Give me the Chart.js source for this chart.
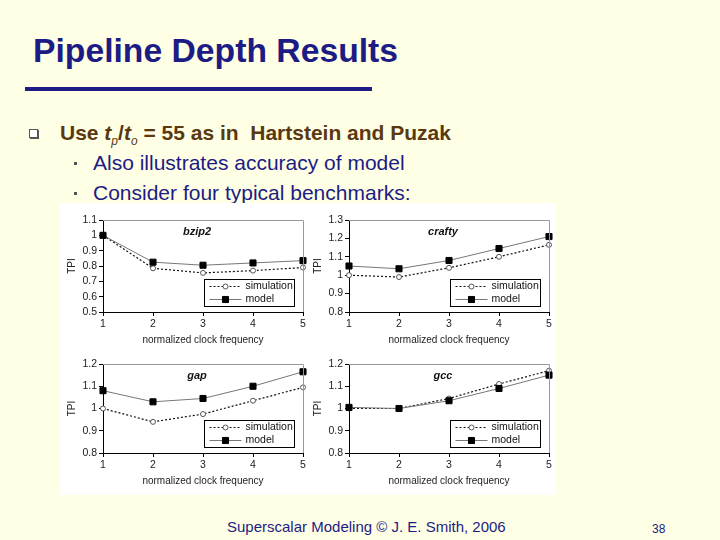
<!DOCTYPE html>
<html>
<head>
<meta charset="utf-8">
<script src="https://cdn.jsdelivr.net/npm/chart.js@4"></script>
<style>
  body { margin: 0; width: 720px; height: 540px; background: #FFFFE6; position: relative; overflow: hidden; font-family: "Liberation Sans", Arial, sans-serif; }
  .abs { position: absolute; white-space: nowrap; }
  #title { left: 33px; top: 34px; font-size: 33.7px; line-height: 33px; font-weight: bold; color: #1c1c84; }
  #rule { left: 25px; top: 87px; width: 347px; height: 4px; background: #1c1c84; }
  #box { left: 29px; top: 129px; width: 7px; height: 7px; border: 1px solid #555; background: #fff; box-shadow: 1px 1px 0 #555; }
  .l1 { left: 60px; top: 122px; font-size: 21px; line-height: 22px; font-weight: bold; color: #5a3810; }
  .sub { left: 93px; font-size: 21px; line-height: 22px; color: #1c1c84; }
  .dot { left: 74px; width: 3px; height: 3px; background: #555; }
  #panel { left: 60px; top: 203px; width: 496px; height: 292px; background: #fff; }
  canvas { position: absolute; }
  #foot { left: 227px; top: 519px; font-size: 15px; line-height: 16px; color: #1c1c84; }
  #page { left: 652px; top: 522px; font-size: 12px; line-height: 14px; color: #1c1c84; }
</style>
</head>
<body>
<div class="abs" id="title">Pipeline Depth Results</div>
<div class="abs" id="rule"></div>
<div class="abs" id="box"></div>
<div class="abs l1">Use <i>t</i><sub style="font-size:12px;font-weight:normal"><i>p</i></sub>/<i>t</i><sub style="font-size:12px;font-weight:normal"><i>o</i></sub> = 55 as in&nbsp; Hartstein and Puzak</div>
<div class="abs dot" style="top:162px"></div>
<div class="abs sub" style="top:152px">Also illustrates accuracy of model</div>
<div class="abs dot" style="top:192px"></div>
<div class="abs sub" style="top:182px">Consider four typical benchmarks:</div>
<div class="abs" id="panel"></div>
<canvas id="c1" width="248" height="144" style="left:62px;top:208px"></canvas>
<canvas id="c2" width="248" height="144" style="left:308px;top:208px"></canvas>
<canvas id="c3" width="248" height="141" style="left:62px;top:352px"></canvas>
<canvas id="c4" width="248" height="141" style="left:308px;top:352px"></canvas>
<div class="abs" id="foot">Superscalar Modeling © J. E. Smith, 2006</div>
<div class="abs" id="page">38</div>
<script>
const freqLabels = ['1', '2', '3', '4', '5'];

const bzip2Sim = [1.0, 0.785, 0.755, 0.77, 0.79];
const bzip2Model = [1.0, 0.825, 0.805, 0.82, 0.835];

const craftySim = [1.0, 0.99, 1.04, 1.10, 1.165];
const craftyModel = [1.05, 1.035, 1.08, 1.145, 1.21];

const gapSim = [1.0, 0.94, 0.975, 1.035, 1.095];
const gapModel = [1.08, 1.03, 1.045, 1.10, 1.165];

const gccSim = [1.0, 1.0, 1.045, 1.11, 1.17];
const gccModel = [1.005, 1.0, 1.035, 1.09, 1.15];

const seriesNames = ['simulation', 'model'];

const FONT = 'Liberation Sans';

// legend box, chart name and frame drawn inside the plot area
const panelDecor = {
   id: 'panelDecor',
   afterDraw(chart, args, opts) {
      const ctx = chart.ctx;
      const a = chart.chartArea;
      ctx.save();
      ctx.strokeStyle = '#999';
      ctx.lineWidth = 1;
      ctx.beginPath();
      ctx.moveTo(a.left, a.top + 0.5);
      ctx.lineTo(a.right + 0.5, a.top + 0.5);
      ctx.lineTo(a.right + 0.5, a.bottom);
      ctx.stroke();

      ctx.fillStyle = '#111';
      ctx.font = 'italic bold 11px ' + FONT;
      ctx.textAlign = 'center';
      ctx.textBaseline = 'middle';
      ctx.fillText(opts.name, a.left + a.width * 0.47, a.top + 12);

      const w = 90, h = 27;
      const bx = Math.round(a.right - 9 - w) + 0.5;
      const by = Math.round(a.bottom - 6 - h) + 0.5;
      ctx.fillStyle = '#fff';
      ctx.fillRect(bx, by, w, h);
      ctx.strokeStyle = '#000';
      ctx.strokeRect(bx, by, w, h);

      chart.data.datasets.forEach((ds, i) => {
         const y = by + 7 + i * 13;
         ctx.strokeStyle = ds.borderColor;
         ctx.lineWidth = ds.borderWidth;
         ctx.setLineDash(ds.borderDash || []);
         ctx.beginPath();
         ctx.moveTo(bx + 5, y);
         ctx.lineTo(bx + 37, y);
         ctx.stroke();
         ctx.setLineDash([]);
         ctx.fillStyle = ds.pointBackgroundColor;
         ctx.strokeStyle = ds.pointBorderColor;
         ctx.lineWidth = 1;
         Chart.helpers.drawPoint(ctx, {pointStyle: ds.pointStyle, radius: ds.pointRadius, borderWidth: 1}, bx + 21, y);
         ctx.fillStyle = '#111';
         ctx.font = '10.5px ' + FONT;
         ctx.textAlign = 'left';
         ctx.fillText(ds.label, bx + 41, y);
      });
      ctx.restore();
   }
};

function makeChart(id, name, sim, model, yMin, yMax) {
   const config = {
      type: 'line',
      data: {
         labels: freqLabels,
         datasets: [{
            label: seriesNames[0],
            data: sim,
            order: 1,
            borderColor: '#111',
            borderWidth: 1.2,
            borderDash: [2, 2],
            pointStyle: 'circle',
            pointRadius: 2.5,
            pointBackgroundColor: '#fff',
            pointBorderColor: '#555',
            pointBorderWidth: 1,
            tension: 0
         }, {
            label: seriesNames[1],
            data: model,
            order: 0,
            borderColor: '#777',
            borderWidth: 1,
            pointStyle: 'rect',
            pointRadius: 4.3,
            pointBackgroundColor: '#000',
            pointBorderColor: '#000',
            pointBorderWidth: 1,
            tension: 0
         }]
      },
      options: {
         responsive: false,
         animation: false,
         devicePixelRatio: 1,
         layout: { padding: { left: 0, right: 7, top: 12, bottom: 0 } },
         plugins: {
            legend: { display: false },
            tooltip: { enabled: false },
            panelDecor: { name: name }
         },
         scales: {
            x: {
               offset: false,
               grid: { drawOnChartArea: false, tickLength: 4, color: '#000' },
               border: { color: '#000' },
               ticks: { color: '#222', font: { family: FONT, size: 10.5 }, padding: 2, maxRotation: 0 },
               title: { display: true, text: 'normalized clock frequency', color: '#222',
                        font: { family: FONT, size: 10 }, padding: { top: 0, bottom: 6 } },
               afterFit: s => { s.height = 40; }
            },
            y: {
               min: yMin,
               max: yMax,
               grid: { drawOnChartArea: false, tickLength: 4, color: '#000' },
               border: { color: '#000' },
               ticks: { stepSize: 0.1, autoSkip: false, color: '#222', font: { family: FONT, size: 10.5 }, padding: 2,
                        callback: v => String(Number(v.toFixed(1))) },
               title: { display: true, text: 'TPI', color: '#222',
                        font: { family: FONT, size: 10 }, padding: { top: 4, bottom: 0 } },
               afterFit: s => { s.width = 41; }
            }
         }
      },
      plugins: [panelDecor]
   };
   return new Chart(id, config);
}

makeChart('c1', 'bzip2', bzip2Sim, bzip2Model, 0.5, 1.1);
makeChart('c2', 'crafty', craftySim, craftyModel, 0.8, 1.3);
makeChart('c3', 'gap', gapSim, gapModel, 0.8, 1.2);
makeChart('c4', 'gcc', gccSim, gccModel, 0.8, 1.2);
</script>
</body>
</html>
